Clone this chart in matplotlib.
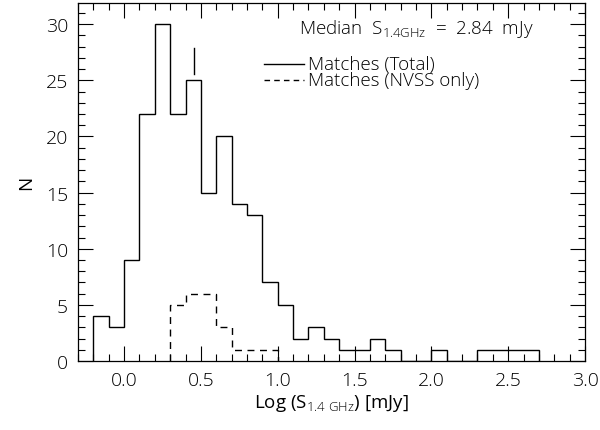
import matplotlib

matplotlib.use("Agg")
import matplotlib.pyplot as plt
import numpy as np
from matplotlib.ticker import MultipleLocator

# histogram data, bin width 0.1 in log flux
bin_width = 0.1
total_start = -0.2
total_counts = [4, 3, 9, 22, 30, 22, 25, 15, 20, 14, 13, 7, 5, 2, 3, 2, 1, 1,
                2, 1, 0, 0, 1, 0, 0, 1, 1, 1, 1]
nvss_start = 0.3
nvss_counts = [5, 6, 6, 3, 1, 1, 1]
median_mjy = 2.84

plt.rcParams["font.family"] = ["Open Sans", "DejaVu Sans"]
plt.rcParams["font.weight"] = "light"
plt.rcParams["mathtext.fontset"] = "custom"
plt.rcParams["mathtext.rm"] = "Open Sans:light"
plt.rcParams["font.size"] = 13.5


def edges(start, counts):
    return start + bin_width * np.arange(len(counts) + 1)


fig = plt.figure(figsize=(6.0, 4.31), dpi=100)
ax = fig.add_axes([0.13, 0.160, 0.845, 0.831])

ax.stairs(total_counts, edges(total_start, total_counts), color="black",
          linewidth=1.0, baseline=0)
ax.stairs(nvss_counts, edges(nvss_start, nvss_counts), color="black",
          linewidth=1.0, linestyle=(0, (5, 4)), baseline=0)

# median marker
log_med = np.log10(median_mjy)
ax.plot([log_med, log_med], [25.6, 27.9], color="black", linewidth=1.0)

ax.text(1.90, 29.7, r"Median  S$_{\rm 1.4GHz}$  =  2.84  mJy", ha="center",
        va="center")
ax.plot([0.91, 1.17], [26.5, 26.5], color="black", linewidth=1.0)
ax.plot([0.91, 1.17], [25.0, 25.0], color="black", linewidth=1.0,
        linestyle=(0, (4, 3)))
ax.text(1.20, 26.5, "Matches (Total)", ha="left", va="center")
ax.text(1.20, 25.0, "Matches (NVSS only)", ha="left", va="center")

ax.set_xlim(-0.3, 3.0)
ax.set_ylim(0, 31.9)
ax.xaxis.set_major_locator(MultipleLocator(0.5))
ax.xaxis.set_minor_locator(MultipleLocator(0.1))
ax.yaxis.set_major_locator(MultipleLocator(5))
ax.yaxis.set_minor_locator(MultipleLocator(1))
ax.xaxis.set_major_formatter(plt.FormatStrFormatter("%.1f"))
ax.tick_params(which="both", direction="in", top=True, right=True, width=0.8,
               labelsize=14)
ax.tick_params(which="major", length=11, pad=7)
ax.tick_params(which="minor", length=5)
for s in ax.spines.values():
    s.set_linewidth(0.9)

ax.set_xlabel(r"Log (S$_{\rm 1.4\ GHz}$) [mJy]", labelpad=2)
ax.set_ylabel("N", labelpad=8)

fig.savefig("out.png", dpi=100)
